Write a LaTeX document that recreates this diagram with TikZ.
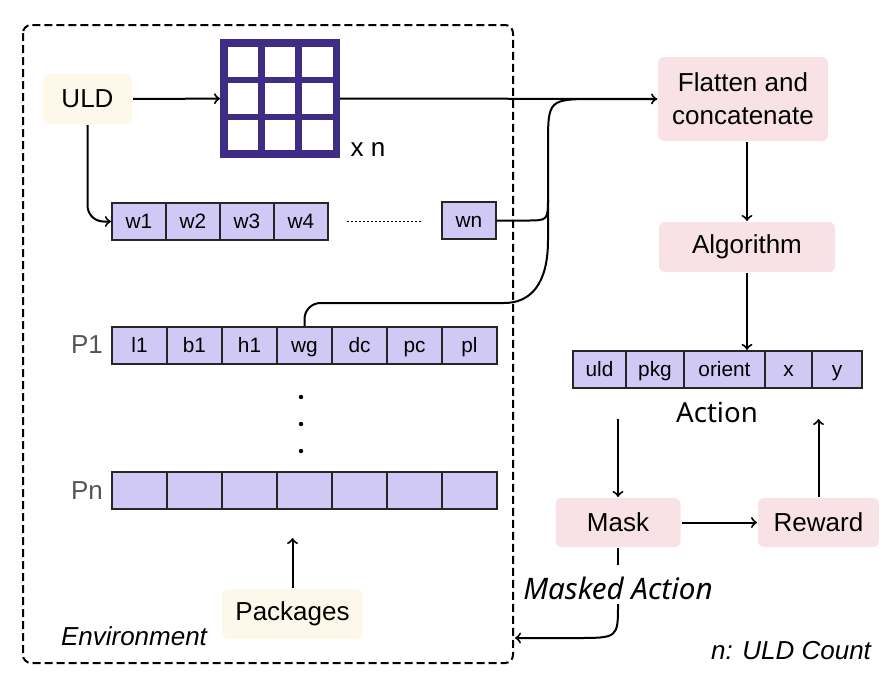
\documentclass[tikz,border=0pt]{standalone}
\usepackage{fontspec}
\setmainfont{Liberation Sans}
\newfontfamily\notosans{Noto Sans}
\definecolor{cream}{HTML}{FEF8EA}
\definecolor{blush}{HTML}{F9E2E5}
\definecolor{lavender}{HTML}{D1C9F5}
\definecolor{gridpurple}{HTML}{3F2C85}
\definecolor{labelgray}{HTML}{555555}
\tikzset{
  softbox/.style={rounded corners=3pt, inner sep=0pt, align=center,
    font=\fontsize{13}{16.5}\selectfont},
  envbox/.style={softbox, fill=cream},
  stagebox/.style={softbox, fill=blush},
  cell/.style={draw=black!85, line width=1.1pt, fill=lavender, inner sep=0pt,
    text height=7.4pt, text depth=0pt,
    minimum width=27pt, minimum height=18.5pt, font=\fontsize{10.4}{12}\selectfont},
  plain/.style={font=\fontsize{13}{16}\selectfont},
}
\begin{document}
\begin{tikzpicture}[x=0.5pt,y=-0.5pt,line width=1pt]
  \useasboundingbox (0,0) rectangle (893,686);
  % environment frame
  \draw[dash pattern=on 4pt off 2pt, rounded corners=4pt] (23,25) rectangle (513,663);
  \node[plain, font=\fontsize{13}{16}\itshape] (envlabel) at (134,636) {Environment};

  % ULD and its grid
  \node[envbox, minimum width=44.5pt, minimum height=25pt] (uld) at (87.5,99) {ULD};
  \node[minimum width=59pt, minimum height=58.5pt, inner sep=0pt] (grid) at (280,98.5) {};
  \fill[gridpurple] (grid.north west) rectangle (grid.south east);
  \foreach \i in {0,1,2}
    \foreach \j in {0,1,2}
      \fill[white] (227.5+37.2*\i,46.5+36.83*\j) rectangle ++(30.6,30.33);
  \node[plain] (times) at (368,150) {x n};

  % weights
  \foreach \t [count=\i] in {w1,w2,w3,w4}
    \node[cell] (w\i) at (85+54*\i,221.5) {\t};
  \node[cell] (wn) at (469,220.5) {wn};
  \draw[line width=0.8pt, dash pattern=on 1pt off 1pt] (347,221.5) -- (423,221.5);

  % packages
  \node[plain, labelgray] (p1label) at (87,345) {P1};
  \foreach \t [count=\i] in {l1,b1,h1,wg,dc,pc,pl}
    \node[cell, minimum width=27.5pt] (p\i) at (84.5+55*\i,345.5) {\t};
  \foreach \y in {397,424,451}
    \fill (301,\y) circle[radius=1.1pt];
  \node[plain, labelgray] (pnlabel) at (87,491) {Pn};
  \foreach \i in {1,...,7}
    \node[cell, minimum width=27.5pt] (q\i) at (84.5+55*\i,490.5) {};
  \node[envbox, minimum width=70.5pt, minimum height=25pt] (pkg) at (292.5,614) {Packages};
  \coordinate (pkgin) at (292.5,538);

  % agent side
  \node[stagebox, minimum width=85pt, minimum height=42pt] (flat) at (743,99) {Flatten and\\concatenate};
  \node[stagebox, minimum width=88pt, minimum height=25pt] (algo) at (747,247) {Algorithm};
  \foreach \c/\w/\t [count=\i] in {599.5/26.5/uld,655/29/pkg,724.5/40.5/orient,788.5/23.5/x,837/25/y}
    \node[cell, minimum width=\w pt] (a\i) at (\c,369.5) {\t};
  \node[plain, font=\fontsize{13.8}{16}\notosans] (actlabel) at (717,412) {Action};
  \node[stagebox, minimum width=62.5pt, minimum height=24.5pt] (mask) at (618,522.5) {Mask};
  \node[stagebox, minimum width=60.5pt, minimum height=24.5pt] (reward) at (818.5,522.5) {Reward};
  \node[anchor=base, inner sep=1pt, text height=15.5pt, text depth=1pt,
    font=\fontsize{14.8}{17}\notosans\itshape] (masked) at (618,599) {Masked Action};
  \coordinate (maskin) at (618,419);
  \coordinate (rewout) at (818.5,419);
  \coordinate (envin) at (515,638);
  \node[plain, font=\fontsize{13}{16}\itshape] (note) at (791,651) {n: ULD Count};

  % connectors
  \draw[->] (uld) -- (grid);
  \draw[->] (grid) -- (flat);
  \draw[->, rounded corners=8pt] (uld.south) |- (w1.west);
  \draw (wn.east) -- (526,220.5) .. controls (548,220.5) .. (548,198)
    -- (548,146) .. controls (548,99) .. (598,99) -- (flat.west);
  \draw[rounded corners=8pt] (p4.north) |- (488,303) [sharp corners]
    .. controls (530,303) and (548,285) .. (548,240) -- (548,200);
  \draw[->] (pkg) -- (pkgin);
  \draw[->] (algo |- flat.south) -- (algo);
  \draw[->] (algo) -- (algo |- a3.north);
  \draw[->] (maskin) -- (mask);
  \draw[->] (mask) -- (reward);
  \draw[->] (reward) -- (rewout);
  \draw (mask) -- (masked);
  \draw[->] (masked.south) .. controls (618,638) .. (576,638) -- (envin);
\end{tikzpicture}
\end{document}
